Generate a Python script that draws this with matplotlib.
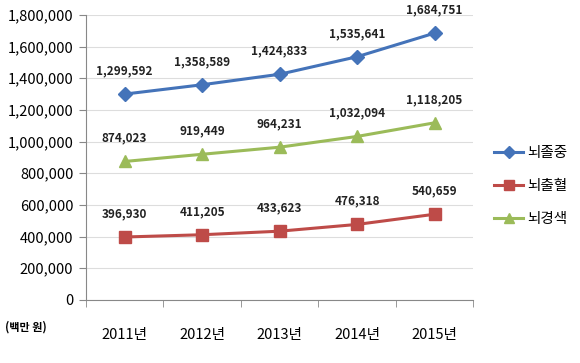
import matplotlib.pyplot as plt
import numpy as np

plt.rcParams['font.family'] = ['Noto Sans CJK KR', 'DejaVu Sans']

years = ['2011년', '2012년', '2013년', '2014년', '2015년']
stroke = [1299592, 1358589, 1424833, 1535641, 1684751]
hemorrhage = [396930, 411205, 433623, 476318, 540659]
infarction = [874023, 919449, 964231, 1032094, 1118205]
series_names = ['뇌졸중', '뇌출혈', '뇌경색']

fig = plt.figure(figsize=(5.8, 3.63), dpi=100)
ax = fig.add_axes([0.148, 0.174, 0.668, 0.785])

x = np.arange(len(years))
specs = [
    (stroke, series_names[0], '#4473B9', 'D', 7),
    (hemorrhage, series_names[1], '#BE4B48', 's', 8),
    (infarction, series_names[2], '#9BBB59', '^', 8),
]
for vals, name, col, mk, ms in specs:
    ax.plot(x, vals, color=col, lw=2.2, marker=mk, ms=ms, label=name)
    for xi, v in zip(x, vals):
        ax.annotate('{:,}'.format(v), (xi, v), xytext=(0, 12), textcoords='offset points',
                    ha='center', va='bottom', fontsize=8.5, fontweight='bold', color='#222222')

ax.set_xlim(-0.5, len(years) - 0.5)
ax.set_ylim(0, 1800000)
ax.set_yticks(np.arange(0, 1800001, 200000))
ax.set_yticklabels(['{:,}'.format(v) for v in range(0, 1800001, 200000)], fontsize=10.5)
ax.set_xticks(x)
ax.set_xticklabels(years, fontsize=10.5)
ax.set_xticks(np.arange(-0.5, len(years), 1), minor=True)
ax.tick_params(axis='x', which='major', length=0, pad=20)
ax.tick_params(axis='x', which='minor', length=5, color='#888888')
ax.tick_params(axis='y', length=5, color='#888888', pad=4)
ax.grid(axis='y', color='#DDDDDD', lw=0.8)
ax.set_axisbelow(True)
for s in ['top', 'right']:
    ax.spines[s].set_visible(False)
for s in ['left', 'bottom']:
    ax.spines[s].set_color('#888888')

fig.text(0.008, 0.1, '(백만 원)', fontsize=8, fontweight='bold', ha='left', va='center')

ax.legend(loc='center left', bbox_to_anchor=(1.02, 0.40), frameon=False, fontsize=10.5,
          handlelength=2.0, labelspacing=1.3, handletextpad=0.3, markerscale=0.85)

fig.savefig('out.png', dpi=100)
